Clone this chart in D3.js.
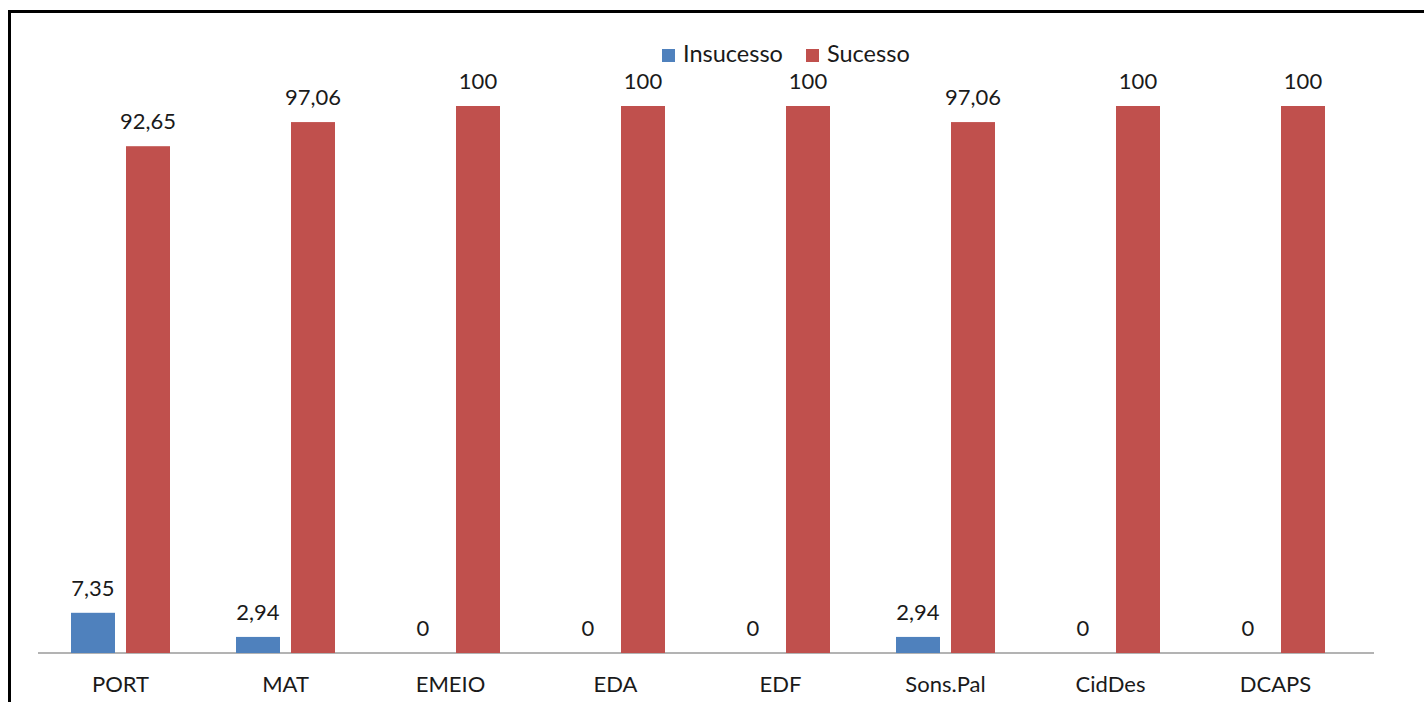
<!DOCTYPE html>
<html>
<head>
<meta charset="utf-8">
<script src="https://cdn.jsdelivr.net/npm/d3@7/dist/d3.min.js"></script>
<style>
  html, body { margin: 0; padding: 0; background: #ffffff; }
  svg { display: block; }
  text { font-family: Lato, "Open Sans", sans-serif; fill: #1a1a1a; }
</style>
</head>
<body>
<svg id="chart" width="1424" height="702"></svg>
<script>
// Disciplines and success / failure rates (%)
const categories = ["PORT", "MAT", "EMEIO", "EDA", "EDF", "Sons.Pal", "CidDes", "DCAPS"];
const seriesNames = ["Insucesso", "Sucesso"];
const insucesso = [7.35, 2.94, 0, 0, 0, 2.94, 0, 0];
const sucesso = [92.65, 97.06, 100, 100, 100, 97.06, 100, 100];
const valueLabels = {
  Insucesso: ["7,35", "2,94", "0", "0", "0", "2,94", "0", "0"],
  Sucesso: ["92,65", "97,06", "100", "100", "100", "97,06", "100", "100"]
};
const colors = { Insucesso: "#4f81bd", Sucesso: "#c0504d" };

const rows = categories.map((c, i) => ({
  cat: c,
  values: [
    { key: "Insucesso", value: insucesso[i], label: valueLabels.Insucesso[i] },
    { key: "Sucesso", value: sucesso[i], label: valueLabels.Sucesso[i] }
  ]
}));

const svg = d3.select("#chart");

// Frame around the chart area
svg.append("rect")
  .attr("x", 9.5).attr("y", 11.5)
  .attr("width", 1440).attr("height", 720)
  .attr("fill", "none").attr("stroke", "#000").attr("stroke-width", 3);

const x0 = d3.scaleBand().domain(categories).range([38, 1358])
  .paddingInner(0.4).paddingOuter(0.2);
const x1 = d3.scaleBand().domain(seriesNames).range([0, x0.bandwidth()])
  .paddingInner(0.2);
const y = d3.scaleLinear().domain([0, 100]).range([653, 106]);

// Category axis
const axis = svg.append("g")
  .attr("transform", `translate(0,${y(0)})`)
  .call(d3.axisBottom(x0).tickSize(0).tickPadding(23));
axis.select(".domain").remove();
axis.selectAll("text")
  .style("font-family", "Lato, 'Open Sans', sans-serif")
  .attr("font-size", 22).attr("fill", "#1a1a1a");

// Baseline
svg.append("line")
  .attr("x1", 38).attr("x2", 1374)
  .attr("y1", y(0)).attr("y2", y(0))
  .attr("stroke", "#b3b3b3").attr("stroke-width", 2);

const groups = svg.append("g").selectAll("g")
  .data(rows).join("g")
  .attr("transform", d => `translate(${x0(d.cat)},0)`);

groups.selectAll("rect")
  .data(d => d.values).join("rect")
  .attr("x", d => x1(d.key))
  .attr("width", x1.bandwidth())
  .attr("y", d => y(d.value))
  .attr("height", d => y(0) - y(d.value))
  .attr("fill", d => colors[d.key]);

groups.selectAll("text.val")
  .data(d => d.values).join("text")
  .attr("class", "val")
  .attr("x", d => x1(d.key) + x1.bandwidth() / 2)
  .attr("y", d => y(d.value) - 17)
  .attr("text-anchor", "middle")
  .attr("font-size", 22)
  .text(d => d.label);

// Legend
const legend = svg.append("g");
const legendX = { Insucesso: 662, Sucesso: 806 };
seriesNames.forEach(name => {
  const g = legend.append("g").attr("transform", `translate(${legendX[name]},49)`);
  g.append("rect").attr("width", 13).attr("height", 13).attr("fill", colors[name]);
  g.append("text").attr("x", 21).attr("y", 12.5).attr("font-size", 23.5).text(name);
});
</script>
</body>
</html>
